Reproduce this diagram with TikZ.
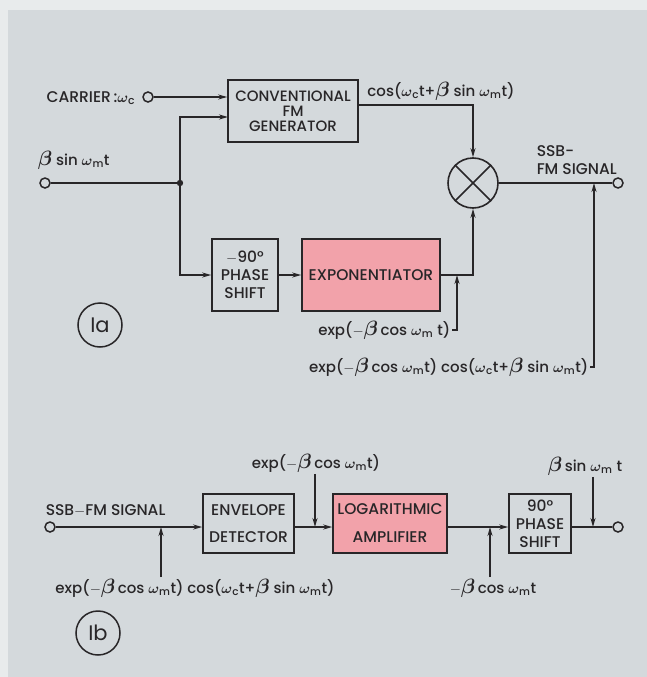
\documentclass[tikz,border=0pt]{standalone}
\usepackage{fontspec}
\setmainfont{Poppins Medium}
\newfontfamily\thinfont{Poppins}
\usepackage{amsbsy}
\usetikzlibrary{arrows.meta,calc}
\definecolor{bg}{RGB}{212,217,220}
\definecolor{bgedge}{RGB}{232,235,236}
\definecolor{pinkf}{RGB}{242,162,170}
\definecolor{ink}{RGB}{40,38,40}
\newcommand{\om}{$\boldsymbol{\omega}$}
\newcommand{\wsub}[1]{\om\textsubscript{#1}}
\newcommand{\bet}{{\fontsize{20}{20}\selectfont$\boldsymbol{\beta}$}}
\begin{document}
\begin{tikzpicture}[x=1pt,y=-1pt, line width=1.5pt, draw=ink, text=ink,
  blk/.style={draw=ink, line width=1.6pt, fill=bg, inner sep=0pt, align=center, font=\fontsize{15.5}{18}\selectfont},
  pblk/.style={blk, fill=pinkf},
  oc/.style={circle, draw=ink, line width=1.5pt, fill=bg, minimum size=10pt, inner sep=0pt},
  arr/.style={-{Stealth[length=9pt,width=5pt]}},
  lab/.style={inner sep=1pt, font=\fontsize{15}{17}\selectfont},
  caps/.style={inner sep=1pt, font=\fontsize{15.5}{18}\selectfont},
  fig/.style={circle, draw=ink, line width=1.5pt, minimum size=44pt, inner sep=0pt, font=\thinfont\fontsize{21}{22}\selectfont}
]
\fill[bgedge] (0,0) rectangle (647,677);
\fill[bg] (8,10) rectangle (647,677);
\useasboundingbox (0,0) rectangle (647,677);

% ---------- Fig 1a ----------
\node[blk, minimum width=130pt, minimum height=62pt, font=\fontsize{15}{15}\selectfont] (conv) at (293,111) {CONVENTIONAL\\FM\\GENERATOR};
\node[blk, minimum width=66pt, minimum height=72pt] (ph1) at (245,275) {$-$90°\\PHASE\\SHIFT};
\node[pblk, minimum width=138pt, minimum height=72pt] (expo) at (371,275) {EXPONENTIATOR};
\node[circle, draw=ink, line width=1.6pt, minimum size=50pt, inner sep=0pt, fill=bg] (mul) at (473,183) {};
\draw[line width=1.6pt] (mul.north west) -- (mul.south east) (mul.north east) -- (mul.south west);

\node[oc] (cin) at (148,97) {};
\node[caps, anchor=east] (cinl) at (137,98) {CARRIER\,:\wsub{c}};
\node[oc] (bin) at (45,183) {};
\node[lab, anchor=west] (binl) at (36,160) {\bet\ sin \wsub{m}t};
\coordinate (j) at (180,183);
\coordinate (cin2) at (228,117);
\coordinate (co) at (358,105);
\node[oc] (out1) at (618,183) {};
\node[caps, anchor=south west, align=left] (outl) at (535,176) {SSB-\\FM SIGNAL};
\node[lab] (cosl) at (441,91) {cos(\om\textsubscript{c}t+\bet\ sin \wsub{m}t)};
\coordinate (fb) at (594,183);
\coordinate (e1) at (457,275);
\node[lab, anchor=east] (l1) at (452,330) {exp($-$\bet\,cos \wsub{m} t)};
\node[lab, anchor=east] (l2) at (590,367) {exp($-$\bet\,cos \wsub{m}t) cos(\om\textsubscript{c}t+\bet\ sin \wsub{m}t)};
\node[fig] (f1) at (100,325) {Ia};

\draw[arr] (cin) -- (conv.west |- cin);
\draw (bin) -- (j);
\fill[ink] (j) circle (3.2pt);
\draw[arr] (j) |- (cin2);
\draw[arr] (j) |- (ph1.west);
\draw[arr] (ph1) -- (expo);
\draw[arr] (expo.east) -| (mul.south);
\draw[arr] (co) -| (mul.north);
\draw (mul.east) -- (out1);
\draw[arr] (l2.east) -| (fb);
\draw[arr] (l1.east) -| (e1);

% ---------- Fig 1b ----------
\node[oc] (bin2) at (50,527) {};
\node[caps, anchor=west] (bin2l) at (44,511) {SSB$-$FM SIGNAL};
\node[blk, minimum width=91pt, minimum height=59pt, font=\fontsize{15.5}{27}\selectfont] (env) at (248.5,523.5) {ENVELOPE\\DETECTOR};
\node[pblk, minimum width=114pt, minimum height=59pt, font=\fontsize{15.5}{28}\selectfont] (log) at (390,523.5) {LOGARITHMIC\\AMPLIFIER};
\node[blk, minimum width=62pt, minimum height=59pt] (ph2) at (540,523.5) {90°\\PHASE\\SHIFT};
\node[oc] (out2) at (618,527) {};

\node[lab] (b1) at (195,588) {exp($-$\bet\,cos \wsub{m}t) cos(\om\textsubscript{c}t+\bet\ sin \wsub{m}t)};
\node[lab] (b2) at (316,463) {exp($-$\bet\,cos \wsub{m}t)};
\node[lab] (b3) at (493,588) {$-$\bet\,cos \wsub{m}t};
\node[lab] (b4) at (585,466) {\bet\,sin \wsub{m} t};
\node[fig] (f2) at (98,633) {Ib};

\coordinate (t1) at (161,527);
\coordinate (t2) at (315,527);
\coordinate (t3) at (490,527);
\coordinate (t4) at (593,527);

\draw[arr] (bin2) -- (env.west |- bin2);
\draw[arr] (env.east |- bin2) -- (log.west |- bin2);
\draw[arr] (log.east |- bin2) -- (ph2.west |- bin2);
\draw (ph2.east |- bin2) -- (out2);
\draw[arr] (t1 |- b1.north) -- (t1);
\draw[arr] (t2 |- b2.south) -- (t2);
\draw[arr] (t3 |- b3.north) -- (t3);
\draw[arr] (t4 |- b4.south) -- (t4);
\end{tikzpicture}
\end{document}
